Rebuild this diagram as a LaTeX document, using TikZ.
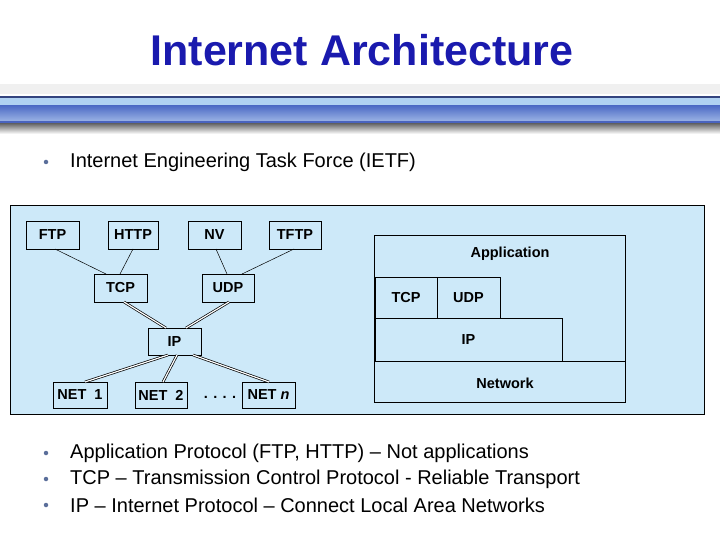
\documentclass[tikz,border=0pt]{standalone}
\usepackage{fontspec}
\setmainfont{Liberation Sans}
\definecolor{panel}{HTML}{CDE9F9}
\definecolor{ttl}{HTML}{1A1AAE}
\definecolor{bul}{HTML}{5A6E9A}
\definecolor{bA}{HTML}{33447F}
\definecolor{bB}{HTML}{B0D2F2}
\definecolor{bC}{HTML}{4F6DC6}
\definecolor{bD}{HTML}{9AB2E4}
\definecolor{bE}{HTML}{4A64BE}
\definecolor{bF}{HTML}{6E6E6E}
\tikzset{
  lab/.style={font=\fontsize{14.5}{16}\bfseries\selectfont},
  bx/.style={draw, fill=panel, line width=0.6pt, inner sep=0pt, lab},
  ln/.style={line width=0.5pt},
  dl/.style={double, double distance=1.2pt, line width=0.7pt},
  txt/.style={font=\fontsize{20}{24}\selectfont, anchor=west, inner sep=0pt},
  dot/.style={circle, fill=bul, inner sep=0pt, minimum size=4.5pt}
}
\begin{document}
\begin{tikzpicture}[x=1pt,y=-1pt]
\useasboundingbox (0,0) rectangle (720,540);
\fill[white] (0,0) rectangle (720,540);
\node[font=\fontsize{43}{48}\bfseries\selectfont, text=ttl] (title) at (362,50) {Internet Architecture};
% band
\fill[gray!12] (0,84) rectangle (720,94);
\fill[bA] (0,96) rectangle (720,98);
\fill[bB] (0,98) rectangle (720,106);
\shade[top color=bC, bottom color=bD] (0,106) rectangle (720,121);
\fill[bE] (0,121) rectangle (720,124);
\shade[top color=bF, bottom color=white] (0,124) rectangle (720,134);
% bullets
\node[dot] (b1) at (46,162) {};
\node[txt] (t1) at (70,162) {Internet Engineering Task Force (IETF)};
\node[dot] (b2) at (46,453) {};
\node[txt] (t2) at (70,453) {Application Protocol (FTP, HTTP) -- Not applications};
\node[dot] (b3) at (46,479) {};
\node[txt] (t3) at (70,479) {TCP -- Transmission Control Protocol - Reliable Transport};
\node[dot] (b4) at (46,505) {};
\node[txt] (t4) at (70,505) {IP -- Internet Protocol -- Connect Local Area Networks};
% panel
\draw[fill=panel, line width=0.6pt] (10,205) rectangle (704,414);
% left graph
\node[bx, minimum width=53pt, minimum height=28pt] (ftp) at (52.5,235) {FTP};
\node[bx, minimum width=50pt, minimum height=28pt] (http) at (133,235) {HTTP};
\node[bx, minimum width=53pt, minimum height=28pt] (nv) at (214.5,235) {NV};
\node[bx, minimum width=52pt, minimum height=28pt] (tftp) at (295,235) {TFTP};
\node[bx, minimum width=53pt, minimum height=28pt] (tcp) at (120.5,288) {TCP};
\node[bx, minimum width=52pt, minimum height=28pt] (udp) at (228,288) {UDP};
\node[bx, minimum width=53pt, minimum height=27pt] (ip) at (174.5,341.5) {IP};
\node[bx, minimum width=54pt, minimum height=26pt] (n1) at (80,395) {NET\ \ 1};
\node[bx, minimum width=52pt, minimum height=26pt] (n2) at (161,395) {NET\ \ 2};
\node[bx, minimum width=53pt, minimum height=26pt] (nn) at (268.5,395) {NET \textit{n}};
\node[lab] (dots) at (220,397) {. . . .};
\draw[ln] (55,249) -- (106,274);
\draw[ln] (133,249) -- (120,274);
\draw[ln] (216,249) -- (227,274);
\draw[ln] (294,249) -- (242,274);
\draw[dl] (124,302) -- (166,328);
\draw[dl] (229,302) -- (186,328);
\draw[dl] (168,355) -- (85,382);
\draw[dl] (177,355) -- (163,382);
\draw[dl] (193,355) -- (269,382);
% right stack
\draw[line width=0.6pt] (374,235) rectangle (625,402);
\draw[line width=0.6pt] (374,361) -- (625,361);
\node[bx, minimum width=187pt, minimum height=43pt] (ipr) at (468.5,339.5) {IP};
\node[bx, minimum width=62pt, minimum height=41pt] (tcpr) at (406,297.5) {TCP};
\node[bx, minimum width=63pt, minimum height=41pt] (udpr) at (468.5,297.5) {UDP};
\node[lab] (app) at (510,254) {Application};
\node[lab] (net) at (505,383) {Network};
\end{tikzpicture}
\end{document}
